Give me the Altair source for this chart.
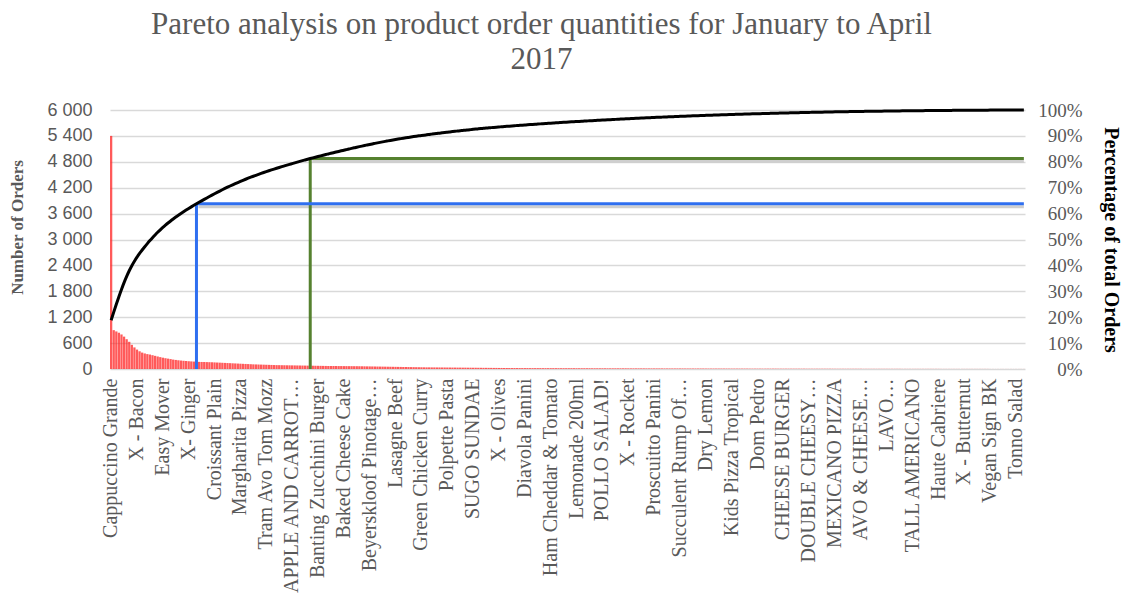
import json
import pandas as pd
import altair as alt

TITLE_LINES = ["Pareto analysis on product order quantities for January to April", "2017"]

# Every 10th product carries a visible label on the category axis
LABEL_EVERY = 10
LABELED_PRODUCTS = [
    "Cappuccino  Grande", "X - Bacon", "Easy Mover", "X- Ginger", "Croissant Plain",
    "Margharita Pizza", "Tram Avo Tom Mozz", "APPLE AND CARROT…", "Banting Zucchini Burger",
    "Baked Cheese Cake", "Beyerskloof Pinotage…", "Lasagne Beef", "Green Chicken Curry",
    "Polpette Pasta", "SUGO SUNDAE", "X - Olives", "Diavola Panini", "Ham Cheddar & Tomato",
    "Lemonade 200ml", "POLLO SALAD!", "X - Rocket", "Proscuitto Panini", "Succulent Rump Of…",
    "Dry Lemon", "Kids Pizza Tropical", "Dom Pedro", "CHEESE BURGER", "DOUBLE CHEESY…",
    "MEXICANO PIZZA", "AVO & CHEESE…", "LAVO…", "TALL AMERICANO", "Haute Cabriere",
    "X - Butternut", "Vegan Sign BK", "Tonno Salad",
]

# Order quantities per product, sorted descending
ORDERS_HEAD = [5400, 900, 870, 840, 800, 750, 690, 630, 560, 500, 450, 410, 380, 360, 345,
               335, 320, 305, 290, 275, 262, 250, 240, 230, 218, 210, 202, 196, 190, 185,
               180, 176, 172, 168, 165]
ORDERS_BODY = [163, 162, 160, 158, 156, 153, 150, 147, 144, 141,
               138, 135, 132, 129, 126, 123, 120, 117, 114, 111,
               108, 106, 104, 102, 100, 98, 96, 94, 92, 90,
               89, 88, 87, 86, 85, 84, 83, 82, 81, 80,
               79, 78, 77, 76, 75]
ORDERS_MID = [74, 73, 72, 71, 70, 70, 69, 69, 68, 68, 67, 67, 66, 66, 65, 65]
ORDERS_LOW = [64, 63, 62, 61, 60, 59, 58, 57, 56, 55,
              54, 53, 52, 51, 50, 49, 48, 47, 46, 45,
              44, 43, 42, 41, 40, 39, 38, 38, 37, 37,
              36, 36, 35, 35, 34, 34, 33, 33, 32, 32,
              31, 31, 30, 30, 29, 29, 28, 28, 27, 27,
              26, 26, 25, 25, 24, 24, 23, 23, 22, 22]
ORDERS_SMALL = [22, 22, 21, 21, 21, 21, 20, 20, 20, 20,
                20, 19, 19, 19, 19, 19, 19, 18, 18, 18,
                18, 18, 18, 18, 17, 17, 17, 17, 17, 17,
                16, 16, 16, 16, 16, 16, 15, 15, 15, 15,
                15, 15, 15, 15, 14, 14, 14, 14, 14, 14,
                14, 13, 13, 13, 13, 13, 13, 13, 12, 12,
                12, 12, 12, 12, 12, 12, 11, 11, 11, 11,
                11, 11, 11, 11, 10, 10, 10, 10, 10, 10]
ORDERS_TINY = [10, 10, 10, 9, 9, 9, 9, 9, 9, 9,
               9, 8, 8, 8, 8, 8, 8, 8, 8, 8,
               8, 8, 7, 7, 7, 7, 7, 7, 7, 7,
               7, 7, 7, 6, 6, 6, 6, 6, 6, 6,
               6, 6, 6, 6, 5, 5, 5, 5, 5, 5,
               5, 5, 5, 5, 5, 4, 4, 4, 4, 4]
ORDERS_TAIL = [4, 4, 4, 4, 4, 4, 4, 4, 4, 4,
               3, 3, 3, 3, 3, 3, 3, 3, 3, 3,
               3, 3, 3, 3, 3, 2, 2, 2, 2, 2,
               2, 2, 2, 2, 2, 2, 2, 2, 2, 2,
               2, 2, 2, 2, 1, 1, 1, 1, 1, 1,
               1, 1, 1, 1, 1, 1, 1, 1]

ORDERS = (ORDERS_HEAD + ORDERS_BODY + ORDERS_MID + ORDERS_LOW
          + ORDERS_SMALL + ORDERS_TINY + ORDERS_TAIL)

# Products where the marker lines meet the cumulative curve
BLUE_RANK = 34
GREEN_RANK = 78

LEFT_TICKS = [0, 600, 1200, 1800, 2400, 3000, 3600, 4200, 4800, 5400, 6000]
RIGHT_TICKS = [0, 0.1, 0.2, 0.3, 0.4, 0.5, 0.6, 0.7, 0.8, 0.9, 1.0]

df = pd.DataFrame({"rank": list(range(1, len(ORDERS) + 1)), "orders": ORDERS})
df["pct"] = df["orders"].cumsum() / df["orders"].sum()
last_rank = int(df["rank"].max())

th = pd.DataFrame({
    "rank": [BLUE_RANK, GREEN_RANK],
    "end_rank": [last_rank, last_rank],
    "zero": [0.0, 0.0],
    "pct": [float(df.loc[df["rank"] == BLUE_RANK, "pct"].iloc[0]),
            float(df.loc[df["rank"] == GREEN_RANK, "pct"].iloc[0])],
    "color": ["#2f6ff0", "#55812f"],
})

label_values = list(range(1, last_rank + 1, LABEL_EVERY))
label_expr = json.dumps(LABELED_PRODUCTS, ensure_ascii=False) + f"[(datum.value - 1) / {LABEL_EVERY}]"

GREY = "#595959"

x_scale = alt.Scale(paddingInner=0.12, paddingOuter=0)
x_axis = alt.Axis(
    values=label_values, labelExpr=label_expr, labelAngle=-90, labelAlign="right",
    labelBaseline="middle", labelPadding=9, labelFont="Liberation Serif",
    labelFontSize=20, labelColor=GREY, labelOverlap=False, labelLimit=400,
    ticks=False, domain=False, grid=False, title=None,
)
left_axis = alt.Axis(
    values=LEFT_TICKS, labelExpr="replace(format(datum.value, ','), ',', ' ')",
    labelFont="Liberation Sans", labelFontSize=18, labelColor=GREY, labelPadding=18,
    ticks=False, domain=False, grid=True, gridColor="#d9d9d9", gridWidth=1.5,
    title="Number of Orders", titleFont="Liberation Serif", titleFontSize=17,
    titleFontWeight="bold", titleColor=GREY, titlePadding=20, titleY=117,
)
right_axis = alt.Axis(
    orient="right", values=RIGHT_TICKS, format=".0%", labelFont="Liberation Serif",
    labelFontSize=19, labelColor=GREY, labelAlign="right", labelPadding=57,
    ticks=False, domain=False, grid=False,
    title="Percentage of total Orders", titleFont="Liberation Serif", titleFontSize=20,
    titleFontWeight="bold", titleColor="black", titleAngle=90, titlePadding=18,
)

bars = alt.Chart(df).mark_bar(color="#ff1a1a", opacity=0.72).encode(
    x=alt.X("rank:O", axis=x_axis, scale=x_scale),
    y=alt.Y("orders:Q", axis=left_axis, scale=alt.Scale(domain=[0, 6000], nice=False)),
)

pct_scale = alt.Scale(domain=[0, 1], nice=False)

# faint drop shadow under the marker lines
hshadow = alt.Chart(th).mark_rule(strokeWidth=3, color="#cfcfcf", yOffset=3, xOffset=2).encode(
    x=alt.X("rank:O"),
    x2="end_rank:O",
    y=alt.Y("pct:Q", axis=right_axis, scale=pct_scale),
)
vrule = alt.Chart(th).mark_rule(strokeWidth=3).encode(
    x=alt.X("rank:O"),
    y=alt.Y("zero:Q", axis=right_axis, scale=pct_scale),
    y2="pct:Q",
    color=alt.Color("color:N", scale=None),
)
hrule = alt.Chart(th).mark_rule(strokeWidth=3).encode(
    x=alt.X("rank:O"),
    x2="end_rank:O",
    y=alt.Y("pct:Q", axis=right_axis, scale=pct_scale),
    color=alt.Color("color:N", scale=None),
)
line = alt.Chart(df).mark_line(color="black", strokeWidth=3, interpolate="monotone").encode(
    x=alt.X("rank:O"),
    y=alt.Y("pct:Q", axis=right_axis, scale=pct_scale),
)

inner = alt.layer(hshadow, vrule, hrule, line)

chart = alt.layer(bars, inner).resolve_scale(y="independent").properties(
    width=915,
    height=259,
    autosize=alt.AutoSizeParams(type="none"),
    padding={"left": 110, "top": 110, "right": 97, "bottom": 231},
    background="white",
    title=alt.TitleParams(
        text=TITLE_LINES, font="Liberation Serif", fontSize=31, fontWeight="normal",
        color=GREY, anchor="middle", dx=-26, offset=25, lineHeight=35,
    ),
).configure_view(stroke=None)

chart.save("out.html", embed_options={"renderer": "svg", "actions": False})
